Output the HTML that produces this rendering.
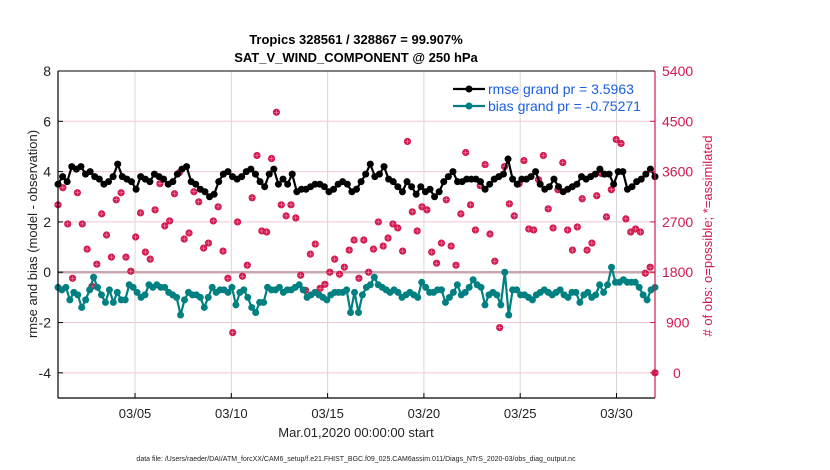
<!DOCTYPE html>
<html><head><meta charset="utf-8"><style>
body{margin:0;background:#fff;}
svg{display:block;font-family:"Liberation Sans",sans-serif;}
</style></head><body>
<svg id="chart" width="830" height="470" viewBox="0 0 830 470">
<rect width="830" height="470" fill="#fff"/>
<g id="grid"></g>
<g id="series"></g>
<g id="axes"></g>
<text x="356" y="44" text-anchor="middle" font-size="13" font-weight="bold">Tropics 328561 / 328867 = 99.907%</text>
<text x="356" y="62" text-anchor="middle" font-size="13" font-weight="bold">SAT_V_WIND_COMPONENT @ 250 hPa</text>
<text x="356" y="437" text-anchor="middle" font-size="13" fill="#222">Mar.01,2020 00:00:00 start</text>
<text x="356" y="461" text-anchor="middle" font-size="7" fill="#222">data file: /Users/raeder/DAI/ATM_forcXX/CAM6_setup/f.e21.FHIST_BGC.f09_025.CAM6assim.011/Diags_NTrS_2020-03/obs_diag_output.nc</text>
<text transform="translate(37,234) rotate(-90)" text-anchor="middle" font-size="13" fill="#222">rmse and bias (model - observation)</text>
<text transform="translate(712,236) rotate(-90)" text-anchor="middle" font-size="13" fill="#d1184e"># of obs: o=possible; *=assimilated</text>
<g>
<line x1="453" y1="89" x2="485" y2="89" stroke="#000" stroke-width="2.2"/>
<circle cx="469" cy="89" r="3.5" fill="#000"/>
<text x="488" y="94" font-size="14" fill="#1a5fe0">rmse grand pr = 3.5963</text>
<line x1="453" y1="106" x2="485" y2="106" stroke="#008080" stroke-width="2.2"/>
<circle cx="469" cy="106" r="3.5" fill="#008080"/>
<text x="488" y="111" font-size="14" fill="#1a5fe0">bias grand pr = -0.75271</text>
</g>
</svg>
<script>
const leftTicks=[8,6,4,2,0,-2,-4];
const rightTicks=[5400,4500,3600,2700,1800,900,0];
const dateTicks=[4,9,14,19,24,29];
const dateLabels=["03/05","03/10","03/15","03/20","03/25","03/30"];
const rmse=[3.5,3.8,3.6,4.2,4.1,4.2,3.9,4.0,3.8,3.7,3.5,3.6,3.8,4.3,3.8,3.7,3.6,3.3,3.8,3.7,3.6,3.9,3.8,3.7,3.5,3.6,3.9,4.1,4.2,3.6,3.5,3.3,3.2,3.0,3.1,3.6,3.9,4.0,3.8,3.7,3.8,4.0,4.1,3.9,3.6,3.4,3.9,4.1,3.5,3.7,3.5,3.9,3.2,3.3,3.3,3.4,3.5,3.5,3.4,3.2,3.3,3.5,3.6,3.5,3.2,3.3,3.6,3.9,4.3,3.8,3.9,4.2,3.7,3.6,3.4,3.2,3.6,3.4,3.1,3.4,3.2,3.3,3.0,3.2,3.6,3.8,4.0,3.6,3.6,3.7,3.7,3.7,3.6,3.3,3.5,3.7,3.8,3.9,4.5,3.7,3.5,3.7,3.7,3.8,4.0,3.5,3.3,3.4,3.7,3.4,3.2,3.3,3.4,3.5,3.8,3.7,3.8,3.9,4.1,3.9,3.9,3.5,4.0,4.0,3.3,3.4,3.6,3.7,3.9,4.1,3.8];
const bias=[-0.6,-0.7,-0.6,-1.1,-0.8,-0.9,-1.4,-1.1,-0.7,-0.2,-0.6,-0.9,-1.2,-0.7,-1.2,-0.8,-1.1,-1.1,-0.5,-0.6,-0.8,-1.0,-0.9,-0.5,-0.6,-0.5,-0.6,-0.6,-0.8,-0.9,-1.0,-1.7,-1.1,-0.8,-0.9,-0.9,-1.0,-1.4,-1.0,-0.6,-0.8,-0.7,-0.7,-0.8,-0.6,-1.3,-0.8,-0.7,-1.0,-1.4,-1.6,-1.2,-1.2,-0.6,-0.7,-0.7,-0.6,-0.8,-0.7,-0.7,-0.6,-0.5,-0.7,-1.0,-0.9,-0.8,-0.9,-1.0,-1.1,-0.9,-0.8,-0.8,-0.8,-0.7,-1.6,-0.8,-1.6,-0.9,-0.6,-0.5,-0.2,-0.5,-0.6,-0.7,-0.8,-0.7,-0.8,-1.0,-0.9,-0.8,-0.9,-1.0,-0.4,-0.6,-0.8,-0.8,-0.7,-0.7,-1.2,-1.0,-0.8,-0.5,-0.9,-0.8,-0.6,-0.3,-0.5,-0.6,-1.3,-0.9,-0.8,-0.9,-1.3,0.0,-1.7,-0.7,-0.7,-0.9,-0.9,-1.0,-1.1,-0.9,-0.8,-0.7,-0.8,-0.9,-0.8,-0.7,-0.9,-1.0,-0.8,-0.8,-1.2,-0.9,-0.8,-1.0,-0.9,-0.5,-0.8,-0.5,0.2,-0.4,-0.4,-0.3,-0.4,-0.4,-0.4,-0.6,-0.9,-1.1,-0.7,-0.6];
const obsCount=[3006,3312,2664,1692,3222,2664,2214,1548,1944,2844,2466,2070,3096,3222,2070,1818,2430,2862,2160,2034,2916,3384,2628,2718,3204,3582,2394,2502,3240,3060,2232,2322,2718,2970,2178,1692,720,2700,1728,1926,3132,3888,2538,2520,3834,4662,3006,2808,3006,2772,1746,1476,2124,2304,1512,1584,1800,2034,1764,1890,2196,2376,1692,2376,1800,2214,2700,2268,2412,2664,2592,2178,4140,2880,2538,2970,2916,2160,1962,2322,3096,2268,1926,2844,3942,3006,2556,3348,3726,2484,1998,810,3690,3024,2808,3384,3798,2574,2556,3456,3888,2934,2592,3276,3762,2556,2196,2610,3114,2196,2322,3168,3564,2790,3276,4176,4104,2754,2520,2574,2520,1782,1890,0];
const NS='http://www.w3.org/2000/svg';
const X0=58,X1=655,Y0=398,Y1=71;
function xs(d){return X0+(d-0)/(31-0)*(X1-X0);}
function yL(v){return Y0-(v+5)/13*(Y0-Y1);}
function yR(c){return yL(-4+c/450);}
function tOf(i,n){return i*31/(n-1);}
function mk(tag,attrs,parent){const e=document.createElementNS(NS,tag);for(const k in attrs)e.setAttribute(k,attrs[k]);parent.appendChild(e);return e;}
const grid=document.getElementById('grid'),axes=document.getElementById('axes'),ser=document.getElementById('series');
rightTicks.forEach((c,i)=>{
  const l=mk('line',{x1:X0,x2:X1,y1:yR(c),y2:yR(c),stroke:'#f0c8d4','stroke-width':1},grid);
  
  
  mk('line',{x1:X1-5,x2:X1,y1:yR(c),y2:yR(c),stroke:'#d1184e'},axes);
  const t=mk('text',{x:X1+7,y:yR(c)+5,'font-size':14,fill:'#d1184e'},axes);t.textContent=c;
  if(c===0)t.setAttribute('x',X1+18);
  if(c===900)t.setAttribute('x',X1+11);
  
  
});
dateTicks.forEach((d,i)=>{
  const l=mk('line',{x1:xs(d),x2:xs(d),y1:Y1,y2:Y0,stroke:'#d8d8d8','stroke-width':1},grid);
  
  
  mk('line',{x1:xs(d),x2:xs(d),y1:Y0,y2:Y0-5,stroke:'#000'},axes);
  const t=mk('text',{x:xs(d),y:Y0+20,'font-size':13,'text-anchor':'middle',fill:'#222'},axes);t.textContent=dateLabels[i];
  
  
});
const zl=mk('line',{x1:X0,x2:X1,y1:yL(0),y2:yL(0),stroke:'#c8a8b0','stroke-width':2.5},grid);


leftTicks.forEach(v=>{
  mk('line',{x1:X0,x2:X0+5,y1:yL(v),y2:yL(v),stroke:'#000'},axes);
  const t=mk('text',{x:X0-7,y:yL(v)+5,'font-size':14,'text-anchor':'end',fill:'#222'},axes);t.textContent=v;
  
  
});
const la=mk('line',{x1:X0,x2:X0,y1:Y1,y2:Y0,stroke:'#000','stroke-width':1.2},axes);


const ba=mk('line',{x1:X0,x2:X1,y1:Y0,y2:Y0,stroke:'#000','stroke-width':1.2},axes);


mk('line',{x1:X0,x2:X1,y1:Y1,y2:Y1,stroke:'#000','stroke-width':1},axes);
const ra=mk('line',{x1:X1,x2:X1,y1:Y1,y2:Y0,stroke:'#d1184e','stroke-width':1.2},axes);


obsCount.forEach((c,i)=>{
  const g=mk('g',{},ser);
  
  
  const x=xs(tOf(i,obsCount.length)),y=yR(c);
  mk('circle',{cx:x,cy:y,r:3.6,fill:'#d1184e'},g);
  mk('path',{d:`M${x-2.5} ${y}H${x+2.5}M${x} ${y-2.5}V${y+2.5}`,stroke:'#f6a0b8','stroke-width':0.5},g);
});
function line(arr,color,name){
  const pts=arr.map((v,i)=>xs(tOf(i,arr.length)).toFixed(1)+','+yL(v).toFixed(1)).join(' ');
  const p=mk('polyline',{points:pts,fill:'none',stroke:color,'stroke-width':2.2},ser);
  
  
  arr.forEach((v,i)=>{
    const c=mk('circle',{cx:xs(tOf(i,arr.length)),cy:yL(v),r:3.5,fill:color},ser);
    
    
  });
}
line(bias,'#008080','bias');
line(rmse,'#000','rmse');
</script>
</body></html>
